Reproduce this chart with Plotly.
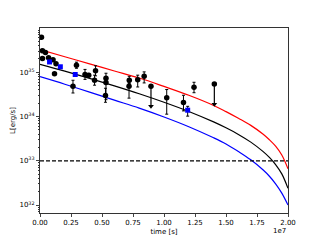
import plotly.graph_objects as go

# ---- model curves, time in 1e6 s ----
curve_t = [0, 2, 4, 6, 8, 10, 12, 14, 15, 16, 17, 18, 18.5, 19, 19.5, 20]
red_L = [3.24e35, 2.24e35, 1.55e35, 1.07e35, 7.41e34, 4.79e34, 3.02e34, 1.78e34,
         1.29e34, 9.12e33, 6.31e33, 3.98e33, 2.99e33, 2.14e33, 1.35e33, 6.6e32]
black_L = [1.51e35, 1.06e35, 7.28e34, 4.93e34, 3.27e34, 2.10e34, 1.30e34, 7.55e33,
           5.55e33, 3.94e33, 2.64e33, 1.61e33, 1.19e33, 8.22e32, 5.06e32, 2.39e32]
blue_L = [7.94e34, 5.37e34, 3.55e34, 2.34e34, 1.55e34, 9.77e33, 5.89e33, 3.31e33,
          2.40e33, 1.62e33, 1.05e33, 6.17e32, 4.47e32, 3.02e32, 1.86e32, 1.0e32]
threshold_L = 1e33

# ---- black data points (t in 1e6 s, L, upper bound, lower bound) ----
pt_t = [0.12, 0.20, 0.44, 0.20, 0.69, 1.05, 1.29, 1.17, 2.94, 2.66, 3.63, 3.93,
        4.48, 4.40, 5.32, 5.32, 5.28, 7.20, 7.18, 7.88, 8.40, 10.22, 11.57, 12.42]
pt_L = [6.2e35, 3.05e35, 2.8e35, 2.04e35, 2.12e35, 1.91e35, 1.55e35, 9.3e34,
        1.44e35, 4.83e34, 8.9e34, 8.6e34, 1.08e35, 6.6e34, 7.3e34, 5.9e34, 3.0e34,
        6.6e34, 4.8e34, 6.8e34, 8.1e34, 2.66e34, 2.08e34, 4.6e34]
pt_hi = [6.2e35, 3.05e35, 2.8e35, 2.04e35, 2.12e35, 1.91e35, 1.55e35, 9.3e34,
         1.69e35, 6.6e34, 1.16e35, 9.4e34, 1.40e35, 8.6e34, 9.5e34, 7.0e34, 4.35e34,
         8.1e34, 6.0e34, 8.6e34, 1.02e35, 4.07e34, 3.02e34, 5.94e34]
pt_lo = [6.2e35, 3.05e35, 2.8e35, 2.04e35, 2.12e35, 1.91e35, 1.55e35, 9.3e34,
         1.23e35, 3.4e34, 6.9e34, 7.9e34, 8.3e34, 5.1e34, 5.6e34, 2.4e34, 2.1e34,
         5.6e34, 2.6e34, 4.65e34, 5.74e34, 1.13e34, 1.34e34, 3.45e34]

# ---- upper limits ----
ul_t = [8.95, 14.06]
ul_L = [4.8e34, 5.4e34]
ul_end = [1.7e34, 1.9e34]

# ---- blue squares ----
sq_t = [0.77, 1.64, 2.84, 11.91]
sq_L = [1.71e35, 1.33e35, 8.9e34, 1.39e34]
sq_hi = [1.71e35, 1.33e35, 8.9e34, 1.70e34]
sq_lo = [1.71e35, 1.33e35, 8.9e34, 1.02e34]

xticks = [0, 0.25, 0.5, 0.75, 1.0, 1.25, 1.5, 1.75, 2.0]
xtick_text = ["0.00", "0.25", "0.50", "0.75", "1.00", "1.25", "1.50", "1.75", "2.00"]
yticks = [1e32, 1e33, 1e34, 1e35]
ytick_text = ["10<sup>32</sup>", "10<sup>33</sup>", "10<sup>34</sup>", "10<sup>35</sup>"]

S = 1e6
fig = go.Figure()

ct = [v * S for v in curve_t]
fig.add_trace(go.Scatter(x=ct, y=red_L, mode="lines", line=dict(color="red", width=1.2, shape="spline")))
fig.add_trace(go.Scatter(x=ct, y=black_L, mode="lines", line=dict(color="black", width=1.2, shape="spline")))
fig.add_trace(go.Scatter(x=ct, y=blue_L, mode="lines", line=dict(color="blue", width=1.2, shape="spline")))
fig.add_trace(go.Scatter(x=[0, 2e7], y=[threshold_L, threshold_L], mode="lines",
                         line=dict(color="black", width=1.2, dash="4px,2px")))

# upper limit segments
ux, uy = [], []
for t, a, b in zip(ul_t, ul_L, ul_end):
    ux += [t * S, t * S, None]
    uy += [a, b, None]
fig.add_trace(go.Scatter(x=ux, y=uy, mode="lines", line=dict(color="black", width=1.2)))
fig.add_trace(go.Scatter(x=[t * S for t in ul_t], y=ul_end, mode="markers",
                         marker=dict(symbol="triangle-down", size=5, color="black")))
fig.add_trace(go.Scatter(x=[t * S for t in ul_t], y=ul_L, mode="markers",
                         marker=dict(symbol="circle", size=5.5, color="black")))

# black points
fig.add_trace(go.Scatter(
    x=[t * S for t in pt_t], y=pt_L, mode="markers",
    marker=dict(symbol="circle", size=5.5, color="black"),
    error_y=dict(type="data", symmetric=False,
                 array=[h - v for h, v in zip(pt_hi, pt_L)],
                 arrayminus=[v - l for v, l in zip(pt_L, pt_lo)],
                 color="black", thickness=1, width=1.5)))

# blue squares
fig.add_trace(go.Scatter(
    x=[t * S for t in sq_t], y=sq_L, mode="markers",
    marker=dict(symbol="square", size=5, color="blue"),
    error_y=dict(type="data", symmetric=False,
                 array=[h - v for h, v in zip(sq_hi, sq_L)],
                 arrayminus=[v - l for v, l in zip(sq_L, sq_lo)],
                 color="black", thickness=1, width=1.5)))

minor_vals = [float(k) * 10.0 ** d for d in range(31, 36) for k in range(2, 10)]

fig.update_layout(
    width=312, height=232, autosize=False,
    margin=dict(l=32, r=32, t=20, b=27, pad=0),
    paper_bgcolor="white", plot_bgcolor="white",
    showlegend=False,
    font=dict(family="DejaVu Sans", size=7, color="black"),
    xaxis=dict(range=[0, 2e7], tickmode="array", tickvals=[v * 1e7 for v in xticks],
               ticktext=xtick_text, ticks="outside", ticklen=3, tickwidth=0.8,
               showgrid=False, zeroline=False, showline=True, mirror=True,
               linecolor="#333", linewidth=1, automargin=False,
               title=dict(text="time [s]", font=dict(size=7), standoff=2)),
    yaxis=dict(type="log", range=[31.82, 36.0], tickmode="array", tickvals=yticks,
               ticktext=ytick_text, ticks="outside", ticklen=3, tickwidth=0.8,
               minor=dict(tickmode="array", tickvals=minor_vals, ticks="outside",
                          ticklen=1.5, tickcolor="#333", showgrid=False),
               showgrid=False, zeroline=False, showline=True, mirror=True,
               linecolor="#333", linewidth=1, automargin=False,
               title=dict(text="L[erg/s]", font=dict(size=7), standoff=2)),
    annotations=[dict(text="1e7", x=1, y=0, xref="paper", yref="paper",
                      xanchor="right", yanchor="top", yshift=-12, showarrow=False,
                      font=dict(size=7))],
)

fig.write_html("out.html")
